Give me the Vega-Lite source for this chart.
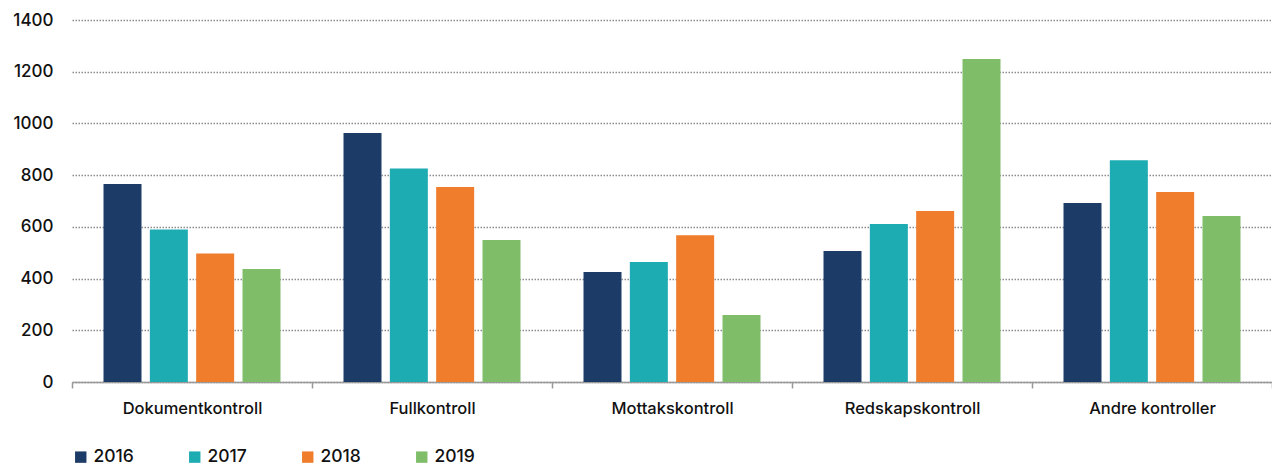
{
  "$schema": "https://vega.github.io/schema/vega-lite/v6.json",
  "width": 1200,
  "height": 362,
  "padding": {"left": 72, "top": 20, "right": 0, "bottom": 84},
  "autosize": {"type": "none"},
  "background": "white",
  "config": {
    "view": {"stroke": null},
    "font": "Inter"
  },
  "data": {
    "values": [
      {"kategori": "Dokumentkontroll", "år": "2016", "antall": 766},
      {"kategori": "Dokumentkontroll", "år": "2017", "antall": 590},
      {"kategori": "Dokumentkontroll", "år": "2018", "antall": 497},
      {"kategori": "Dokumentkontroll", "år": "2019", "antall": 437},
      {"kategori": "Fullkontroll", "år": "2016", "antall": 963},
      {"kategori": "Fullkontroll", "år": "2017", "antall": 826},
      {"kategori": "Fullkontroll", "år": "2018", "antall": 754},
      {"kategori": "Fullkontroll", "år": "2019", "antall": 549},
      {"kategori": "Mottakskontroll", "år": "2016", "antall": 425},
      {"kategori": "Mottakskontroll", "år": "2017", "antall": 464},
      {"kategori": "Mottakskontroll", "år": "2018", "antall": 568},
      {"kategori": "Mottakskontroll", "år": "2019", "antall": 259},
      {"kategori": "Redskapskontroll", "år": "2016", "antall": 507},
      {"kategori": "Redskapskontroll", "år": "2017", "antall": 611},
      {"kategori": "Redskapskontroll", "år": "2018", "antall": 661},
      {"kategori": "Redskapskontroll", "år": "2019", "antall": 1249},
      {"kategori": "Andre kontroller", "år": "2016", "antall": 692},
      {"kategori": "Andre kontroller", "år": "2017", "antall": 858},
      {"kategori": "Andre kontroller", "år": "2018", "antall": 735},
      {"kategori": "Andre kontroller", "år": "2019", "antall": 642}
    ]
  },
  "mark": {"type": "bar"},
  "encoding": {
    "x": {
      "field": "kategori",
      "type": "nominal",
      "sort": null,
      "scale": {"paddingInner": 0, "paddingOuter": 0},
      "axis": {
        "title": null,
        "labelAngle": 0,
        "labelFontSize": 16.5,
        "labelFontWeight": 500,
        "labelColor": "#111111",
        "labelPadding": 12,
        "tickBand": "extent",
        "tickSize": 6,
        "tickColor": "#999999",
        "domainColor": "#999999",
        "domainWidth": 1.5,
        "tickWidth": 1.5,
        "grid": false
      }
    },
    "xOffset": {
      "field": "år",
      "type": "nominal",
      "scale": {"paddingInner": 0.18, "paddingOuter": 0.68}
    },
    "y": {
      "field": "antall",
      "type": "quantitative",
      "scale": {"domain": [0, 1400]},
      "axis": {
        "title": null,
        "values": [0, 200, 400, 600, 800, 1000, 1200, 1400],
        "format": "d",
        "domain": false,
        "ticks": false,
        "labelFontSize": 17,
        "labelFontWeight": 500,
        "labelColor": "#111111",
        "labelPadding": 19,
        "gridColor": "#8c8c8c",
        "gridDash": [1.5, 1.5],
        "gridWidth": 1.3
      }
    },
    "color": {
      "field": "år",
      "type": "nominal",
      "scale": {
        "domain": ["2016", "2017", "2018", "2019"],
        "range": ["#1d3b67", "#1eacb3", "#ef7d2c", "#7fbd68"]
      },
      "legend": {
        "title": null,
        "orient": "none",
        "direction": "horizontal",
        "legendX": 0,
        "legendY": 428,
        "symbolType": "square",
        "symbolSize": 130,
        "symbolStrokeWidth": 0,
        "labelFontSize": 17.5,
        "labelFontWeight": 500,
        "labelColor": "#111111",
        "labelOffset": 4,
        "columnPadding": 52
      }
    }
  }
}
